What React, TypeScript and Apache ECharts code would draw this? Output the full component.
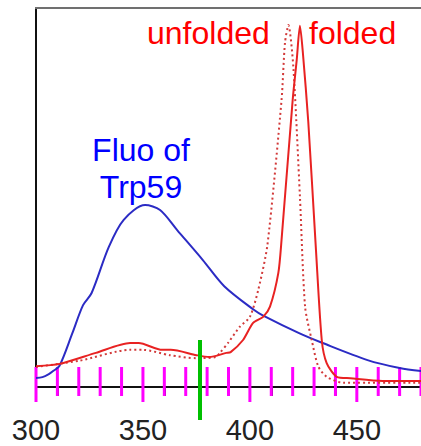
import React, { useEffect, useRef } from "react";
import * as echarts from "echarts";

// Wavelength (nm) and relative intensity for each trace
const blueX = [300, 303, 306, 308, 311, 317, 322, 326, 334, 341, 351, 358, 366, 378, 388, 402, 406, 423, 434, 455, 470, 480];
const blueY = [2.4, 2.6, 3.4, 4.2, 5.6, 14.2, 21.6, 24.8, 36.9, 44.1, 48.0, 46.7, 41.4, 33.5, 26.6, 20.3, 18.9, 14.2, 11.6, 7.1, 5.0, 4.2];

const foldedX = [300, 311, 328, 344, 348, 359, 363, 375, 381, 389, 391, 396.8, 401.5, 406.2, 409.4, 413.3, 414.8, 420, 421.9, 423.4, 424.8, 427.3, 430.9, 433.6, 435.9, 440.6, 447, 462, 480];
const foldedY = [5.5, 6.1, 9.0, 11.6, 11.6, 9.8, 9.8, 8.4, 7.9, 9.0, 9.2, 12.4, 16.9, 18.5, 21.2, 30.1, 38.8, 75.7, 86.3, 95.3, 88.0, 70.0, 36.1, 12.4, 6.3, 2.7, 2.3, 1.6, 1.6];

const unfoldedX = [300, 320, 344, 350, 362.5, 375, 384, 386, 390, 395.3, 400, 403.9, 408.2, 414.8, 416.4, 418, 420.3, 423.4, 425.8, 428.9, 432, 435.9, 443.7, 480];
const unfoldedY = [5.3, 6.9, 9.8, 9.8, 8.4, 7.6, 7.9, 9.0, 11.8, 15.9, 18.5, 25.6, 37.5, 75.7, 90.8, 95.5, 84.5, 50.2, 21.2, 12.4, 5.4, 2.7, 1.1, 1.1];

const xMin = 300;
const xMax = 480;
const yMin = 0;
const yMax = 100;
const majorTicks = [300, 350, 400, 450];
const minorTicks = [300, 310, 320, 330, 340, 350, 360, 370, 380, 390, 400, 410, 420, 430, 440, 450, 460, 470, 480];

const zip = (xs: number[], ys: number[]) => xs.map((x, i) => [x, ys[i]]);

export default function App() {
  const ref = useRef<HTMLDivElement>(null);
  useEffect(() => {
    if (!ref.current) return;
    const chart = echarts.init(ref.current, null, { renderer: "svg" });
    const font = "Liberation Sans, Arial, sans-serif";
    const texts: any[] = [
      { type: "text", left: 147, top: 17, style: { text: "unfolded", fill: "#ff0000", fontSize: 32, fontFamily: font } },
      { type: "text", left: 309, top: 17, style: { text: "folded", fill: "#ff0000", fontSize: 32, fontFamily: font } },
      { type: "text", x: 141, y: 150, style: { text: "Fluo of", fill: "#0000ff", fontSize: 32, fontFamily: font, align: "center", verticalAlign: "middle" } },
      { type: "text", x: 141, y: 187, style: { text: "Trp59", fill: "#0000ff", fontSize: 32, fontFamily: font, align: "center", verticalAlign: "middle" } },
    ];
    chart.setOption({
      animation: false,
      grid: { left: 36, right: 0, top: 8, bottom: 59 },
      xAxis: {
        type: "value", min: xMin, max: xMax, interval: 10,
        axisLine: { show: true, onZero: false, lineStyle: { color: "#111", width: 2 } },
        axisTick: { show: true, length: 9, lineStyle: { color: "#222", width: 2 } },
        axisLabel: { show: true, customValues: majorTicks, margin: 28, fontSize: 29, color: "#222", fontFamily: font },
        splitLine: { show: false },
      },
      yAxis: {
        type: "value", min: yMin, max: yMax,
        axisLine: { show: true, onZero: false, lineStyle: { color: "#111", width: 2 } },
        axisTick: { show: false }, axisLabel: { show: false }, splitLine: { show: false },
      },
      series: [
        {
          type: "custom", clip: false,
          data: [[xMin, yMax / 2]],
          renderItem: (params: any, api: any) => {
            const a = api.coord([xMin, yMax]);
            const b = api.coord([xMax, yMax]);
            return {
              type: "line",
              shape: { x1: a[0] - 1, y1: a[1], x2: b[0], y2: b[1] },
              style: { stroke: "#707070", lineWidth: 2 },
            };
          },
        },
        {
          type: "custom", clip: false,
          data: minorTicks.map((v) => [v, yMax / 2]),
          renderItem: (params: any, api: any) => {
            const v = api.value(0);
            const p = api.coord([v, yMin]);
            const len = majorTicks.indexOf(v) >= 0 ? 15 : 9;
            return {
              type: "line",
              shape: { x1: p[0], y1: p[1] - 20, x2: p[0], y2: p[1] + len },
              style: { stroke: "#ff00ff", lineWidth: 3 },
            };
          },
        },
        {
          type: "line", data: zip(blueX, blueY), showSymbol: false, smooth: 0.3,
          lineStyle: { color: "#2b2bc4", width: 2 },
        },
        {
          type: "line", data: zip(unfoldedX, unfoldedY), showSymbol: false, smooth: 0.25,
          lineStyle: { color: "#d23a3a", width: 2, type: [2, 3] },
        },
        {
          type: "line", data: zip(foldedX, foldedY), showSymbol: false, smooth: 0.25,
          lineStyle: { color: "#e82222", width: 2 },
        },
      ],
      graphic: [
        ...texts,
        { type: "line", shape: { x1: 200, y1: 340, x2: 200, y2: 420 }, style: { stroke: "#00c000", lineWidth: 4 }, z: 100 },
      ],
    });
    return () => chart.dispose();
  }, []);
  return <div ref={ref} style={{ width: 421, height: 446, position: "absolute", left: 0, top: 0 }} />;
}
